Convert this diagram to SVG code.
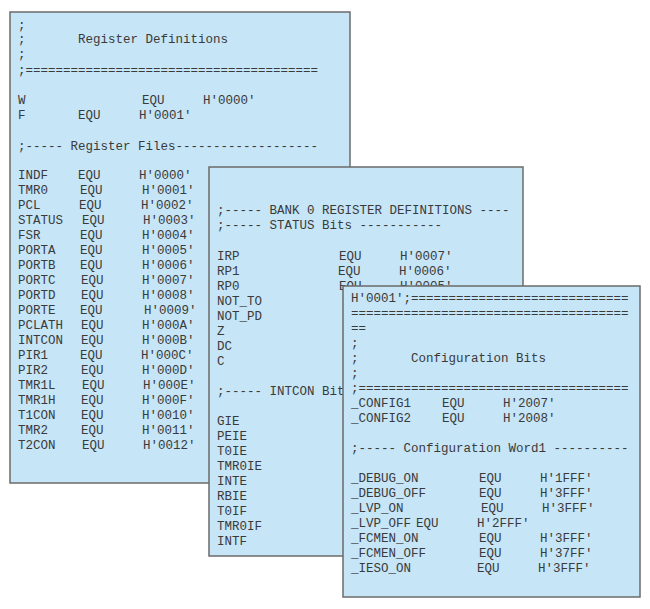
<svg xmlns="http://www.w3.org/2000/svg" width="650" height="609" viewBox="0 0 650 609">
<style>
.p{fill:#c6e5f7;stroke:#6b6b6b;stroke-width:1.5}
text{font-family:"Liberation Mono","Courier New",monospace;font-size:12.5px;fill:#3a3a3a;white-space:pre}
</style>
<defs>
<clipPath id="c2"><path d="M209 167H523V286H343V556H209Z"/></clipPath>
</defs>
<rect width="650" height="609" fill="#fff"/>
<g id="panel1">
<rect class="p" x="10" y="12" width="340" height="471"/>
<text x="18" y="29">;</text>
<text x="18" y="43" xml:space="preserve">;       Register Definitions</text>
<text x="18" y="58">;</text>
<text x="18" y="74">;=======================================</text>
<text x="18" y="104">W</text><text x="142" y="104">EQU</text><text x="203" y="104">H'0000'</text>
<text x="18" y="119">F</text><text x="78" y="119">EQU</text><text x="139" y="119">H'0001'</text>
<text x="18" y="150" xml:space="preserve">;----- Register Files-------------------</text>
<text x="18" y="179">INDF</text><text x="78" y="179">EQU</text><text x="139" y="179">H'0000'</text>
<text x="18" y="194">TMR0</text><text x="80" y="194">EQU</text><text x="142" y="194">H'0001'</text>
<text x="18" y="209">PCL</text><text x="79" y="209">EQU</text><text x="141" y="209">H'0002'</text>
<text x="18" y="224">STATUS</text><text x="82" y="224">EQU</text><text x="143" y="224">H'0003'</text>
<text x="18" y="239">FSR</text><text x="80" y="239">EQU</text><text x="142" y="239">H'0004'</text>
<text x="18" y="254">PORTA</text><text x="80" y="254">EQU</text><text x="142" y="254">H'0005'</text>
<text x="18" y="269">PORTB</text><text x="80" y="269">EQU</text><text x="142" y="269">H'0006'</text>
<text x="18" y="284">PORTC</text><text x="81" y="284">EQU</text><text x="142" y="284">H'0007'</text>
<text x="18" y="299">PORTD</text><text x="81" y="299">EQU</text><text x="142" y="299">H'0008'</text>
<text x="18" y="314">PORTE</text><text x="80" y="314">EQU</text><text x="144" y="314">H'0009'</text>
<text x="18" y="329">PCLATH</text><text x="81" y="329">EQU</text><text x="142" y="329">H'000A'</text>
<text x="18" y="344">INTCON</text><text x="81" y="344">EQU</text><text x="142" y="344">H'000B'</text>
<text x="18" y="359">PIR1</text><text x="80" y="359">EQU</text><text x="141" y="359">H'000C'</text>
<text x="18" y="374">PIR2</text><text x="81" y="374">EQU</text><text x="142" y="374">H'000D'</text>
<text x="18" y="389">TMR1L</text><text x="82" y="389">EQU</text><text x="143" y="389">H'000E'</text>
<text x="18" y="404">TMR1H</text><text x="81" y="404">EQU</text><text x="142" y="404">H'000F'</text>
<text x="18" y="419">T1CON</text><text x="81" y="419">EQU</text><text x="142" y="419">H'0010'</text>
<text x="18" y="434">TMR2</text><text x="81" y="434">EQU</text><text x="142" y="434">H'0011'</text>
<text x="18" y="449">T2CON</text><text x="82" y="449">EQU</text><text x="143" y="449">H'0012'</text>
</g>
<g id="panel2">
<rect class="p" x="209" y="167" width="314" height="389"/>
<g clip-path="url(#c2)">
<text x="217" y="214" xml:space="preserve">;----- BANK 0 REGISTER DEFINITIONS ----</text>
<text x="217" y="229" xml:space="preserve">;----- STATUS Bits -----------</text>
<text x="217" y="260">IRP</text><text x="339" y="260">EQU</text><text x="400" y="260">H'0007'</text>
<text x="217" y="275">RP1</text><text x="338" y="275">EQU</text><text x="399" y="275">H'0006'</text>
<text x="217" y="290">RP0</text><text x="339" y="290">EQU</text><text x="400" y="290">H'0005'</text>
<text x="217" y="305">NOT_TO</text>
<text x="217" y="320">NOT_PD</text>
<text x="217" y="335">Z</text>
<text x="217" y="350">DC</text>
<text x="217" y="365">C</text>
<text x="217" y="395" xml:space="preserve">;----- INTCON Bit</text>
<text x="217" y="425">GIE</text>
<text x="217" y="440">PEIE</text>
<text x="217" y="455">T0IE</text>
<text x="217" y="470">TMR0IE</text>
<text x="217" y="485">INTE</text>
<text x="217" y="500">RBIE</text>
<text x="217" y="515">T0IF</text>
<text x="217" y="530">TMR0IF</text>
<text x="217" y="545">INTF</text>
</g>
</g>
<g id="panel3">
<rect class="p" x="343" y="286" width="297" height="311"/>
<text x="351" y="302">H'0001';=============================</text>
<text x="351" y="317">=====================================</text>
<text x="351" y="332">==</text>
<text x="351" y="347">;</text>
<text x="351" y="362" xml:space="preserve">;       Configuration Bits</text>
<text x="351" y="377">;</text>
<text x="351" y="392">;====================================</text>
<text x="351" y="407">_CONFIG1</text><text x="442" y="407">EQU</text><text x="503" y="407">H'2007'</text>
<text x="351" y="422">_CONFIG2</text><text x="442" y="422">EQU</text><text x="503" y="422">H'2008'</text>
<text x="351" y="452" xml:space="preserve">;----- Configuration Word1 ----------</text>
<text x="351" y="482">_DEBUG_ON</text><text x="479" y="482">EQU</text><text x="540" y="482">H'1FFF'</text>
<text x="351" y="497">_DEBUG_OFF</text><text x="479" y="497">EQU</text><text x="540" y="497">H'3FFF'</text>
<text x="351" y="512">_LVP_ON</text><text x="481" y="512">EQU</text><text x="542" y="512">H'3FFF'</text>
<text x="351" y="527">_LVP_OFF</text><text x="416" y="527">EQU</text><text x="477" y="527">H'2FFF'</text>
<text x="351" y="542">_FCMEN_ON</text><text x="479" y="542">EQU</text><text x="540" y="542">H'3FFF'</text>
<text x="351" y="557">_FCMEN_OFF</text><text x="479" y="557">EQU</text><text x="540" y="557">H'37FF'</text>
<text x="351" y="572">_IESO_ON</text><text x="477" y="572">EQU</text><text x="538" y="572">H'3FFF'</text>
</g>
<g id="connectors"/>
</svg>
